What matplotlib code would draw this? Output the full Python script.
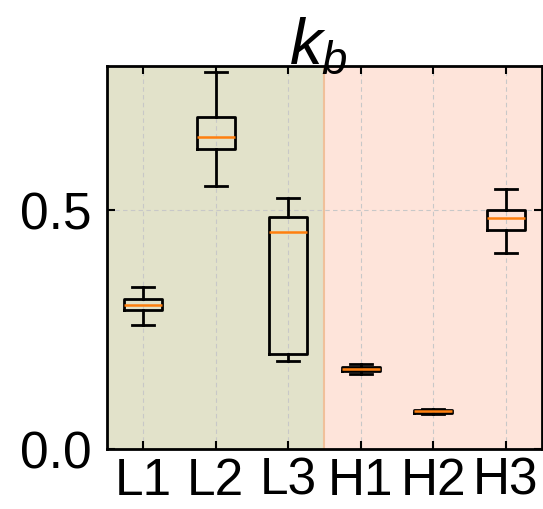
import matplotlib
matplotlib.use("Agg")
import matplotlib.pyplot as plt
from matplotlib.ticker import MultipleLocator, FormatStrFormatter

plt.rcParams["font.family"] = ["Liberation Sans", "DejaVu Sans"]
plt.rcParams["mathtext.fontset"] = "custom"
plt.rcParams["mathtext.it"] = "Liberation Sans:italic"
plt.rcParams["mathtext.rm"] = "Liberation Sans"

# Box statistics per condition
labels = ["L1", "L2", "L3", "H1", "H2", "H3"]
whislo = [0.260, 0.550, 0.183, 0.156, 0.073, 0.410]
q1     = [0.290, 0.627, 0.198, 0.1625, 0.0755, 0.458]
med    = [0.300, 0.652, 0.454, 0.167, 0.0785, 0.483]
q3     = [0.3125, 0.694, 0.485, 0.172, 0.0815, 0.500]
whishi = [0.3375, 0.7875, 0.525, 0.177, 0.083, 0.544]

stats = [
    dict(label=l, whislo=a, q1=b, med=c, q3=d, whishi=e, fliers=[])
    for l, a, b, c, d, e in zip(labels, whislo, q1, med, q3, whishi)
]

fig = plt.figure(figsize=(5.43, 5.10), dpi=100)
ax = fig.add_axes([107 / 543, 60 / 510, 435 / 543, 383 / 510])

positions = list(range(1, len(labels) + 1))
n_low = 3
ax.axvspan(0.5, n_low + 0.5, color="#e2e2ca", zorder=0, lw=0)
ax.axvspan(n_low + 0.5, len(labels) + 0.5, color="#fee4da", zorder=0, lw=0)
ax.axvline(n_low + 0.5, color="#f0c09a", lw=1.5, zorder=0.2)

lw = 2.0
ax.bxp(stats, positions=positions, widths=0.52, showfliers=False,
       boxprops=dict(color="black", lw=lw),
       whiskerprops=dict(color="black", lw=lw),
       capprops=dict(color="black", lw=lw),
       medianprops=dict(color="#ff7f0e", lw=1.8),
       capwidths=0.3)

ax.set_xlim(0.5, len(labels) + 0.5)
ax.set_ylim(0.0, 0.8)
ax.set_xticks(positions)
ax.set_xticklabels(labels)
ax.yaxis.set_major_locator(MultipleLocator(0.5))
ax.yaxis.set_major_formatter(FormatStrFormatter("%.1f"))

ax.set_axisbelow(True)
ax.grid(True, ls=(0, (4, 3)), color="#c8c8c8", lw=0.8)

ax.tick_params(direction="in", top=True, right=True, length=6, width=1.5,
               labelsize=37)
ax.tick_params(axis="y", pad=11)
ax.tick_params(axis="x", pad=5)
for s in ax.spines.values():
    s.set_linewidth(2.0)

ax.set_title(r"$k_b$", fontsize=47, pad=2, x=0.485)

fig.savefig("out.png", dpi=100)
